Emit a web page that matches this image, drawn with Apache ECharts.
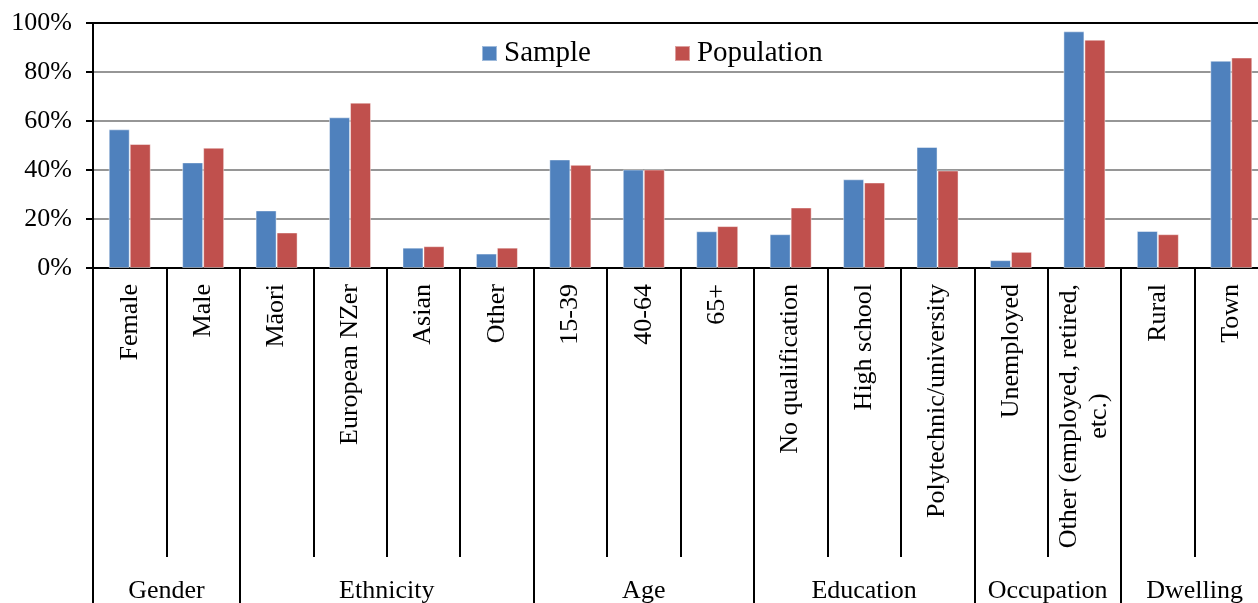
<!DOCTYPE html>
<html>
<head>
<meta charset="utf-8">
<title>Sample vs Population</title>
<script src="https://cdn.jsdelivr.net/npm/echarts@6/dist/echarts.min.js"></script>
<style>
  html, body { margin: 0; padding: 0; background: #fff; }
  #chart { width: 1258px; height: 603px; }
</style>
</head>
<body>
<div id="chart"></div>
<script>
// Category names (bottom axis) and the group each run of categories belongs to
const categories = [
  'Female', 'Male',
  'Māori', 'European NZer', 'Asian', 'Other',
  '15-39', '40-64', '65+',
  'No qualification', 'High school', 'Polytechnic/university',
  'Unemployed', 'Other (employed, retired,\netc.)',
  'Rural', 'Town'
];
const groupNames = ['Gender', 'Ethnicity', 'Age', 'Education', 'Occupation', 'Dwelling'];
const groupSizes = [2, 4, 3, 3, 2, 2];

// Percentages
const sampleValues = [56.6, 43.1, 23.5, 61.5, 8.3, 5.9, 44.3, 40.2, 15.0, 13.8, 36.2, 49.4, 3.2, 96.6, 15.1, 84.6];
const populationValues = [50.6, 49.1, 14.5, 67.5, 8.9, 8.3, 42.1, 40.2, 17.1, 24.7, 34.9, 39.8, 6.6, 93.2, 13.8, 85.9];

const yTicks = { min: 0, max: 100, step: 20 };

const FONT = 'Liberation Serif';
const BLUE = '#4F81BD';
const RED = '#C0504D';

// The group axis runs on half-category steps: slot k sits at k/2 categories.
const nCat = categories.length;
const groupSlots = new Array(nCat * 2 + 1).fill('');
const groupTickSlots = new Set([0]);
const groupLabelSlots = new Set();
let start = 0;
groupNames.forEach((name, i) => {
  const end = start + groupSizes[i];
  const mid = start + end; // (start+end)/2 categories -> slot start+end
  groupSlots[mid] = name;
  groupLabelSlots.add(mid);
  groupTickSlots.add(end * 2);
  start = end;
});

const labelText = { fontFamily: FONT, fontSize: 26, color: '#000', lineHeight: 30 };

const chart = echarts.init(document.getElementById('chart'), null, { renderer: 'canvas' });
chart.setOption({
  animation: false,
  backgroundColor: '#fff',
  textStyle: { fontFamily: FONT },
  legend: {
    left: 481,
    top: 39,
    padding: 0,
    itemWidth: 15,
    itemHeight: 15,
    itemGap: 83,
    icon: 'rect',
    textStyle: { fontFamily: FONT, fontSize: 29, color: '#000', padding: [0, 0, 0, 2] },
    data: ['Sample', 'Population']
  },
  grid: {
    left: 93,
    top: 23,
    width: 1175,
    height: 245,
    outerBoundsMode: 'none',
    containLabel: false,
    show: true,
    borderColor: '#000',
    borderWidth: 2,
    backgroundColor: 'transparent'
  },
  xAxis: [
    {
      type: 'category',
      data: categories,
      boundaryGap: true,
      axisLine: { show: true, lineStyle: { color: '#000', width: 2 } },
      axisTick: {
        show: true,
        interval: 0,
        length: 289,
        lineStyle: { color: '#000', width: 2 }
      },
      axisLabel: {
        interval: 0,
        rotate: 90,
        margin: 16,
        fontFamily: FONT,
        fontSize: 26,
        color: '#000',
        formatter: function (v) {
          const lines = v.split('\n');
          if (lines.length === 1) return '{l|' + v + '}';
          return lines.map((s, i) => (i === 0 ? '{l|' : '{c|') + s + '}').join('\n');
        },
        rich: {
          l: Object.assign({}, labelText),
          c: Object.assign({ align: 'center' }, labelText)
        }
      }
    },
    {
      type: 'category',
      data: groupSlots,
      boundaryGap: false,
      position: 'bottom',
      offset: 289,
      axisLine: { show: false },
      axisTick: {
        show: true,
        length: 46,
        interval: function (idx) { return groupTickSlots.has(idx); },
        lineStyle: { color: '#000', width: 2 }
      },
      axisLabel: {
        show: true,
        margin: 21,
        interval: function (idx) { return groupLabelSlots.has(idx); },
        fontFamily: FONT,
        fontSize: 26,
        color: '#000'
      },
      splitLine: { show: false }
    }
  ],
  yAxis: {
    type: 'value',
    min: yTicks.min,
    max: yTicks.max,
    interval: yTicks.step,
    axisLine: { show: true, lineStyle: { color: '#000', width: 2 } },
    axisTick: { show: true, length: 7, lineStyle: { color: '#000', width: 2 } },
    axisLabel: {
      margin: 21,
      fontFamily: FONT,
      fontSize: 26,
      color: '#000',
      formatter: '{value}%'
    },
    splitLine: {
      show: true,
      showMaxLine: false,
      lineStyle: { color: '#969696', width: 2 }
    }
  },
  series: [
    {
      name: 'Sample',
      type: 'bar',
      xAxisIndex: 0,
      data: sampleValues,
      barWidth: 21,
      barGap: '0%',
      itemStyle: { color: BLUE, borderColor: 'rgba(255,255,255,0.45)', borderWidth: 1 }
    },
    {
      name: 'Population',
      type: 'bar',
      xAxisIndex: 0,
      data: populationValues,
      barWidth: 21,
      barGap: '0%',
      itemStyle: { color: RED, borderColor: 'rgba(255,255,255,0.45)', borderWidth: 1 }
    }
  ]
});
</script>
</body>
</html>
